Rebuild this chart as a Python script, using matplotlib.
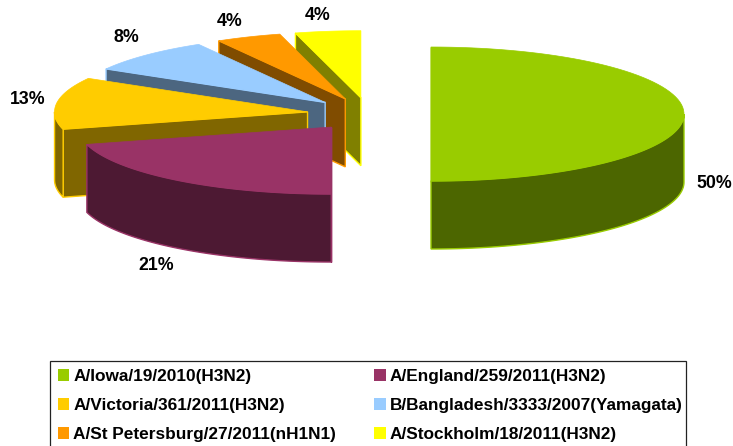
import numpy as np
import matplotlib
matplotlib.use('Agg')
import matplotlib.pyplot as plt
from matplotlib.patches import Patch, Rectangle

strains = ['A/Iowa/19/2010(H3N2)', 'A/England/259/2011(H3N2)', 'A/Victoria/361/2011(H3N2)',
           'B/Bangladesh/3333/2007(Yamagata)', 'A/St Petersburg/27/2011(nH1N1)', 'A/Stockholm/18/2011(H3N2)']
# the slice angles fit these counts out of 24, the printed labels are them rounded
counts = [12, 5, 3, 2, 1, 1]
top_colors = ['#99CC00', '#993366', '#FFCC00', '#99CCFF', '#FF9900', '#FFFF00']
wall_colors = ['#4C6600', '#4D1933', '#806600', '#4C6680', '#804C00', '#808000']

# centre of the whole pie and its ellipse, in pixels
cx, cy = 369, 114
rx, ry = 253, 67
depth = 68
explode = 62

plt.rcParams['font.family'] = ['Liberation Sans', 'DejaVu Sans']
fig = plt.figure(figsize=(7.33, 4.46), dpi=100)
ax = fig.add_axes([0, 0, 1, 1])
ax.set_xlim(0, 733)
ax.set_ylim(446, 0)
ax.axis('off')


def point(ox, oy, ang):
    # angles are clockwise from 12 o'clock
    return ox + rx * np.sin(ang), oy - ry * np.cos(ang)


total = sum(counts)
edges = np.cumsum([0] + counts) / total * 2 * np.pi

# back slices first, the front ones cover them
for i in range(len(counts) - 1, -1, -1):
    a0, a1 = edges[i], edges[i + 1]
    mid = (a0 + a1) / 2
    ox = cx + explode * np.sin(mid)
    oy = cy - explode * ry / rx * np.cos(mid)
    z = len(counts) - i

    # flat wall on the starting side
    x0, y0 = point(ox, oy, a0)
    ax.fill([ox, x0, x0, ox], [oy, y0, y0 + depth, oy + depth],
            facecolor=wall_colors[i], edgecolor=top_colors[i], lw=1, zorder=z)

    # outer wall, only the part facing the viewer
    lo, hi = max(a0, np.pi / 2), min(a1, 3 * np.pi / 2)
    if lo < hi:
        t = np.linspace(lo, hi, 80)
        xs, ys = point(ox, oy, t)
        ax.fill(np.r_[xs, xs[::-1]], np.r_[ys, ys[::-1] + depth],
                facecolor=wall_colors[i], edgecolor=top_colors[i], lw=1, zorder=z)

    t = np.linspace(a0, a1, 80)
    xs, ys = point(ox, oy, t)
    ax.fill(np.r_[ox, xs], np.r_[oy, ys], facecolor=top_colors[i],
            edgecolor=top_colors[i], lw=0.5, zorder=z)

label_xy = [(714, 183), (156, 266), (28, 100), (126, 38), (230, 22), (318, 15)]
for c, (lx, ly) in zip(counts, label_xy):
    ax.text(lx, ly, '%d%%' % int(c * 100 / total + 0.5), ha='center', va='center', fontsize=12.8,
            fontweight='bold', color='black', zorder=20)

# legend box runs off the bottom of the image, so it is drawn by hand
ax.add_patch(Rectangle((50, 361), 636, 95, facecolor='white', edgecolor='#222222', lw=0.9, zorder=29))

# legend fills column by column, so pick the rows out of each column
order = [0, 2, 4, 1, 3, 5]
handles = [Patch(facecolor=top_colors[i], edgecolor='none', label=strains[i]) for i in order]
leg = ax.legend(handles=handles, ncols=2, loc='upper left', bbox_to_anchor=(50, 361),
                bbox_transform=ax.transData, frameon=False, borderaxespad=0, borderpad=0.45,
                prop={'size': 12.4, 'weight': 'bold'}, handlelength=0.66, handleheight=0.66,
                handletextpad=0.25, labelspacing=0.82, columnspacing=2.2)
leg.set_zorder(30)

fig.savefig('out.png', dpi=100)
